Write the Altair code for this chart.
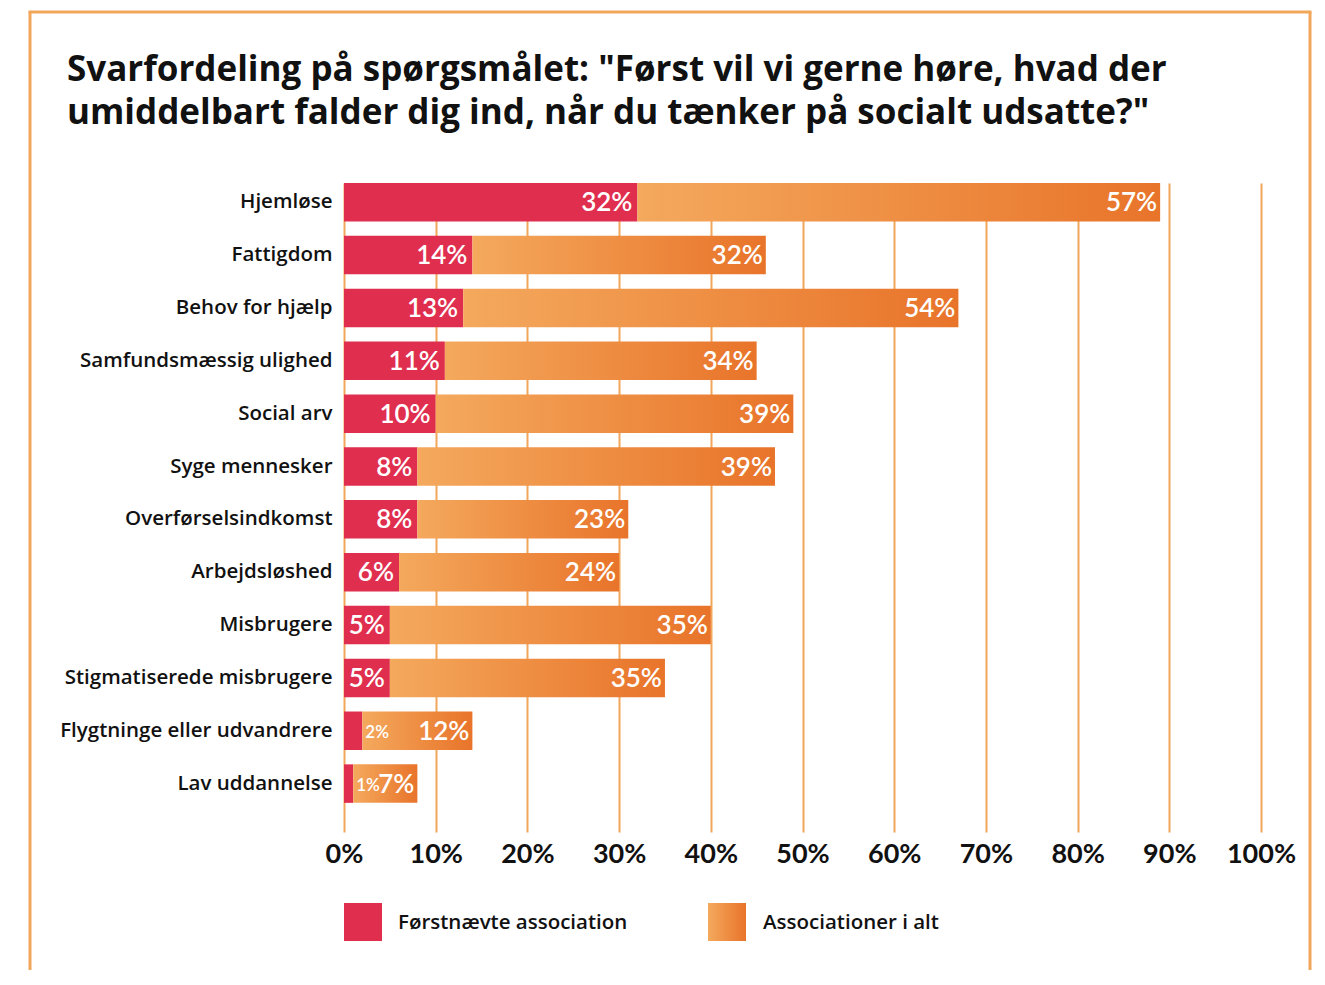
import altair as alt
import pandas as pd

categories = ["Hjemløse", "Fattigdom", "Behov for hjælp", "Samfundsmæssig ulighed",
              "Social arv", "Syge mennesker", "Overførselsindkomst", "Arbejdsløshed",
              "Misbrugere", "Stigmatiserede misbrugere", "Flygtninge eller udvandrere",
              "Lav uddannelse"]
first_named = [32, 14, 13, 11, 10, 8, 8, 6, 5, 5, 2, 1]
total_bar = [57, 32, 54, 34, 39, 39, 23, 24, 35, 30, 12, 7]
total_label = [57, 32, 54, 34, 39, 39, 23, 24, 35, 35, 12, 7]

title_lines = ['Svarfordeling på spørgsmålet: "Først vil vi gerne høre, hvad der',
               'umiddelbart falder dig ind, når du tænker på socialt udsatte?"']
legend_labels = ["Førstnævte association", "Associationer i alt"]
x_ticks = list(range(0, 101, 10))

RED = "#E02E4F"
FRAME = "#F2A65A"
FONT = "Lato"
FONT2 = "Open Sans"

df = pd.DataFrame({
    "cat": categories,
    "first": first_named,
    "rest": total_bar,
    "rest_label": total_label,
})
df["end"] = df["first"] + df["rest"]
df["first_txt"] = df["first"].astype(str) + "%"
df["rest_txt"] = df["rest_label"].astype(str) + "%"

grad = alt.LinearGradient(
    gradient="linear",
    stops=[alt.GradientStop(color="#F4A95D", offset=0),
           alt.GradientStop(color="#E8742A", offset=1)],
    x1=0, x2=1, y1=0, y2=0,
)

W, H = 917, 649

xscale = alt.Scale(domain=[0, 100], nice=False)
yscale = alt.Scale(paddingInner=0.2715, paddingOuter=0.2757, align=0)

xax = alt.Axis(values=x_ticks, labelExpr="datum.value + '%'", title=None,
               grid=True, gridColor=FRAME, gridWidth=2, domain=False, ticks=False,
               labelFontSize=27, labelFont=FONT, labelFontWeight="bold",
               labelColor="#111111", labelPadding=9, labelOverlap=False,
               labelFlush=False, labelBound=False)
yax = alt.Axis(title=None, domain=False, ticks=False, grid=False,
               labelFontSize=20.5, labelFont=FONT2, labelFontWeight=600,
               labelColor="#111111", labelPadding=12, labelLimit=0)

base = alt.Chart(df)
Y = alt.Y("cat:N", sort=categories, scale=yscale, axis=yax)

red_bars = base.mark_bar(color=RED).encode(
    x=alt.X("first:Q", scale=xscale, axis=xax), y=Y)
orange_bars = base.mark_bar(color=grad).encode(
    x=alt.X("first:Q", scale=xscale), x2="end:Q", y=Y)

lbl = dict(font=FONT, color="white", baseline="alphabetic", dy=9)
red_lbl = base.transform_filter("datum.first >= 3").mark_text(
    align="right", dx=-5, fontSize=26, fontWeight=600, **lbl).encode(
    x=alt.X("first:Q", scale=xscale), y=Y, text="first_txt:N")
red_lbl_small = base.transform_filter("datum.first < 3").mark_text(
    align="left", dx=3, fontSize=17, fontWeight=600, font=FONT, color="white",
    baseline="alphabetic", dy=7).encode(
    x=alt.X("first:Q", scale=xscale), y=Y, text="first_txt:N")
rest_lbl = base.mark_text(align="right", dx=-3, fontSize=26, fontWeight=600, **lbl).encode(
    x=alt.X("end:Q", scale=xscale), y=Y, text="rest_txt:N")

one = alt.Data(values=[{"a": 1}])

# frame
fl = alt.Chart(one).mark_rule(color=FRAME, strokeWidth=3).encode(
    x=alt.value(-314), y=alt.value(-171), y2=alt.value(820))
fr = alt.Chart(one).mark_rule(color=FRAME, strokeWidth=3).encode(
    x=alt.value(966), y=alt.value(-171), y2=alt.value(820))
ft = alt.Chart(one).mark_rule(color=FRAME, strokeWidth=3).encode(
    x=alt.value(-315.5), x2=alt.value(967.5), y=alt.value(-171))

tstyle = dict(align="left", baseline="alphabetic", font=FONT2,
              fontSize=35, fontWeight="bold", color="#111111")
t1 = alt.Chart(one).mark_text(**tstyle).encode(
    x=alt.value(-277), y=alt.value(-102), text=alt.value(title_lines[0]))
t2 = alt.Chart(one).mark_text(**tstyle).encode(
    x=alt.value(-277), y=alt.value(-59), text=alt.value(title_lines[1]))

lstyle = dict(align="left", baseline="alphabetic", font=FONT2,
              fontSize=20.5, fontWeight=600, color="#111111")
leg_r = alt.Chart(one).mark_rect(color=RED).encode(
    x=alt.value(0), x2=alt.value(38), y=alt.value(720), y2=alt.value(758))
leg_o = alt.Chart(one).mark_rect(color=grad).encode(
    x=alt.value(364), x2=alt.value(402), y=alt.value(720), y2=alt.value(758))
leg_t1 = alt.Chart(one).mark_text(**lstyle).encode(
    x=alt.value(54), y=alt.value(746), text=alt.value(legend_labels[0]))
leg_t2 = alt.Chart(one).mark_text(**lstyle).encode(
    x=alt.value(419), y=alt.value(746), text=alt.value(legend_labels[1]))

chart = alt.layer(
    red_bars, orange_bars, red_lbl, red_lbl_small, rest_lbl,
    fl, fr, ft, t1, t2, leg_r, leg_o, leg_t1, leg_t2,
).properties(
    width=W, height=H,
    background="white",
    autosize=alt.AutoSizeParams(type="none"),
    padding={"left": 336, "top": 175, "right": 52, "bottom": 138},
).configure_view(stroke=None, strokeWidth=0)

chart.save("out.html", embed_options={"renderer": "svg", "actions": False})
